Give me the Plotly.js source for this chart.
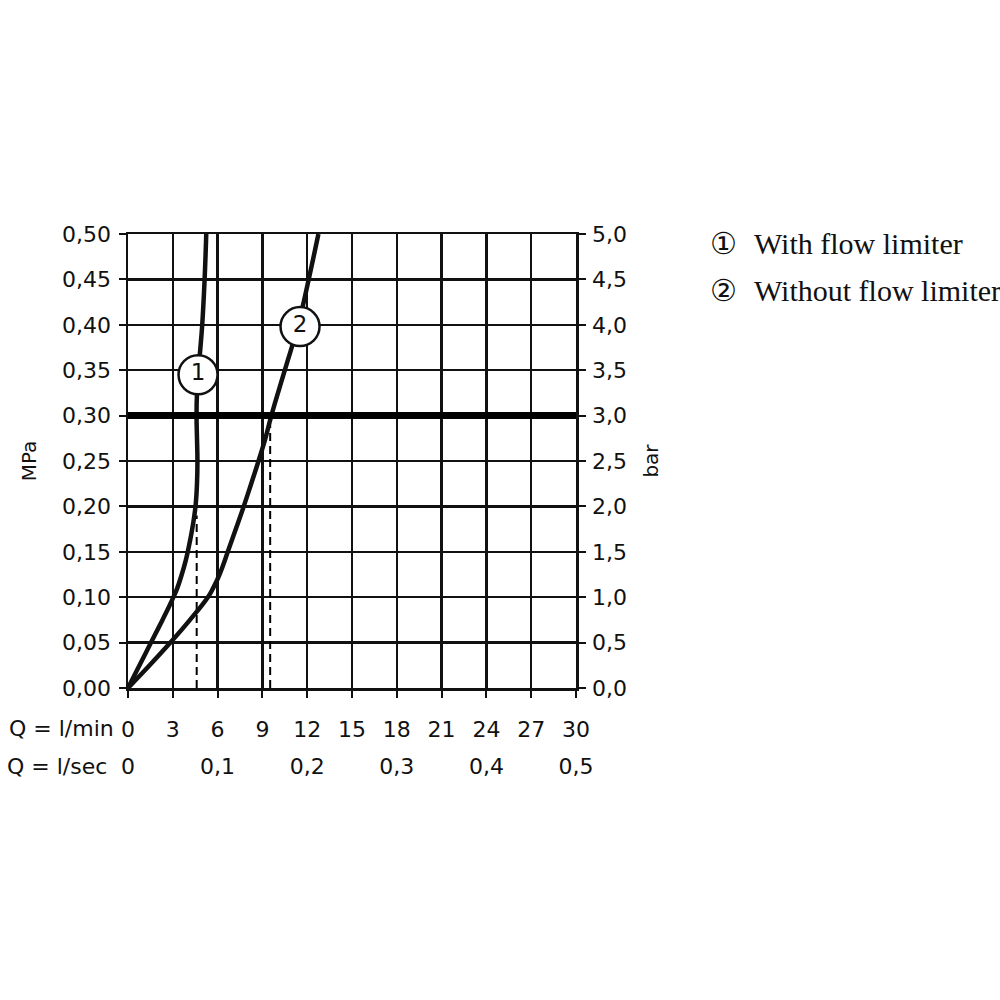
<!DOCTYPE html>
<html>
<head>
<meta charset="utf-8">
<script src="https://cdn.plot.ly/plotly-3.0.1.min.js"></script>
<style>html,body{margin:0;padding:0;background:#fff;}#chart{width:1000px;height:1000px;}</style>
</head>
<body>
<div id="chart"></div>
<script>
// ---- data ----
// Curve 1: with flow limiter (Q in l/min, p in MPa)
const q1 = [0, 0.77, 1.54, 2.31, 2.76, 3.04, 3.3, 3.6, 3.86, 4.0, 4.3, 4.52, 4.62, 4.65, 4.62, 4.59, 4.62, 4.72, 4.85, 4.97, 5.13, 5.24];
const p1 = [0, 0.025, 0.05, 0.075, 0.09, 0.10, 0.11, 0.125, 0.14, 0.15, 0.175, 0.20, 0.225, 0.25, 0.275, 0.30, 0.325, 0.35, 0.375, 0.40, 0.45, 0.50];
// Curve 2: without flow limiter
const q2 = [0, 1.45, 2.84, 4.15, 5.35, 5.7, 6.0, 6.25, 6.47, 6.68, 7.22, 7.75, 8.25, 8.74, 9.2, 9.6, 10.5, 11.4, 12.1, 12.75];
const p2 = [0, 0.025, 0.05, 0.075, 0.10, 0.11, 0.12, 0.13, 0.14, 0.15, 0.175, 0.20, 0.225, 0.25, 0.275, 0.30, 0.35, 0.40, 0.45, 0.50];
// Flow read-off lines at 3 bar
const readQ = [4.6, 9.52];
const readTop = [0.19, 0.29];
const thresholdBar = 3.0;
// Curve labels
const curveLabels = ["1", "2"];
const labelQ = [4.69, 11.52];
const labelP = [0.345, 0.398];
// Legend
const legendSymbols = ["\u2460", "\u2461"];
const legendTexts = ["With flow limiter", "Without flow limiter"];
// Axis ticks
const mpaVals = [0, 0.05, 0.10, 0.15, 0.20, 0.25, 0.30, 0.35, 0.40, 0.45, 0.50];
const mpaText = ["0,00", "0,05", "0,10", "0,15", "0,20", "0,25", "0,30", "0,35", "0,40", "0,45", "0,50"];
const barVals = [0, 0.5, 1, 1.5, 2, 2.5, 3, 3.5, 4, 4.5, 5];
const barText = ["0,0", "0,5", "1,0", "1,5", "2,0", "2,5", "3,0", "3,5", "4,0", "4,5", "5,0"];
const lminVals = [0, 3, 6, 9, 12, 15, 18, 21, 24, 27, 30];
const lminText = ["0", "3", "6", "9", "12", "15", "18", "21", "24", "27", "30"];
const lsecVals = [0, 0.1, 0.2, 0.3, 0.4, 0.5];
const lsecText = ["0", "0,1", "0,2", "0,3", "0,4", "0,5"];
const rowTitles = ["Q = l/min", "Q = l/sec"];

// ---- layout geometry ----
const L = 128, R = 424, T = 234, B = 312;
const W = 1000 - L - R, H = 1000 - T - B;
const px = v => (v - L) / W;
const py = v => (1000 - B - v) / H;

const sans = "DejaVu Sans, sans-serif";
const serif = "Liberation Serif, Times New Roman, serif";

const traces = [];
// thick 3 bar line
traces.push({x: [0, 30], y: [thresholdBar, thresholdBar], xaxis: 'x', yaxis: 'y2', mode: 'lines',
  line: {color: '#000', width: 7}, hoverinfo: 'skip', showlegend: false});
// dashed read-off lines
for (let i = 0; i < readQ.length; i++) {
  traces.push({x: [readQ[i], readQ[i]], y: [0, readTop[i]], mode: 'lines',
    line: {color: '#000', width: 2, dash: '8px,5px'}, hoverinfo: 'skip', showlegend: false});
}
// curves
traces.push({x: q1, y: p1, mode: 'lines', line: {color: '#111', width: 4.5, shape: 'spline', smoothing: 1.2},
  name: legendTexts[0], showlegend: false});
traces.push({x: q2, y: p2, mode: 'lines', line: {color: '#111', width: 4.5, shape: 'spline', smoothing: 1.2},
  name: legendTexts[1], showlegend: false});
// circle labels
traces.push({x: labelQ, y: labelP, mode: 'markers+text', text: curveLabels, textposition: 'middle center',
  textfont: {family: sans, size: 23, color: '#111'},
  marker: {size: 39, color: '#fff', line: {color: '#111', width: 2.5}}, hoverinfo: 'skip', showlegend: false, cliponaxis: false});
// invisible trace for l/sec axis
traces.push({x: [0], y: [0], xaxis: 'x2', yaxis: 'y', mode: 'markers', marker: {opacity: 0}, hoverinfo: 'skip', showlegend: false});

const annotations = [];
annotations.push({xref: 'paper', yref: 'paper', x: px(116), y: py(728), xanchor: 'right', yanchor: 'middle',
  text: rowTitles[0], showarrow: false, font: {family: sans, size: 22, color: '#111'}});
annotations.push({xref: 'paper', yref: 'paper', x: px(109), y: py(766), xanchor: 'right', yanchor: 'middle',
  text: rowTitles[1], showarrow: false, font: {family: sans, size: 22, color: '#111'}});
const legY = [243, 290];
for (let i = 0; i < legendTexts.length; i++) {
  annotations.push({xref: 'paper', yref: 'paper', x: px(723), y: py(legY[i]), xanchor: 'center', yanchor: 'middle',
    text: legendSymbols[i], showarrow: false, font: {family: sans, size: 30, color: '#111'}});
  annotations.push({xref: 'paper', yref: 'paper', x: px(752), y: py(legY[i]), xanchor: 'left', yanchor: 'middle',
    text: legendTexts[i], showarrow: false, font: {family: serif, size: 30, color: '#111'}});
}

const tickFont = {family: sans, size: 22, color: '#111'};
const layout = {
  width: 1000, height: 1000,
  margin: {l: L, r: R, t: T, b: B, pad: 0},
  paper_bgcolor: '#fff', plot_bgcolor: '#fff',
  showlegend: false,
  xaxis: {range: [0, 30], tickvals: lminVals, ticktext: lminText, showgrid: true, gridcolor: '#111', gridwidth: 2.5,
    zeroline: false, showline: true, linecolor: '#111', linewidth: 2.5, mirror: true,
    ticks: 'outside', ticklen: 7, tickwidth: 2, tickcolor: '#111', tickfont: tickFont, ticklabelstandoff: 13,
    automargin: false, fixedrange: true},
  xaxis2: {range: [0, 0.5], overlaying: 'x', anchor: 'y', side: 'bottom', tickvals: lsecVals, ticktext: lsecText,
    showgrid: false, zeroline: false, showline: false, ticks: '', tickfont: tickFont, ticklabelstandoff: 63,
    automargin: false, fixedrange: true},
  yaxis: {range: [0, 0.5], tickvals: mpaVals, ticktext: mpaText, showgrid: true, gridcolor: '#111', gridwidth: 2.5,
    zeroline: false, showline: true, linecolor: '#111', linewidth: 2.5,
    ticks: 'outside', ticklen: 7, tickwidth: 2, tickcolor: '#111', tickfont: tickFont, ticklabelstandoff: 3,
    title: {text: 'MPa', font: {family: sans, size: 20, color: '#111'}, standoff: 20},
    automargin: false, fixedrange: true},
  yaxis2: {range: [0, 5], overlaying: 'y', side: 'right', anchor: 'x', tickvals: barVals, ticktext: barText,
    showgrid: false, zeroline: false, showline: true, linecolor: '#111', linewidth: 2.5,
    ticks: 'outside', ticklen: 7, tickwidth: 2, tickcolor: '#111', tickfont: tickFont, ticklabelstandoff: 2,
    title: {text: 'bar', font: {family: sans, size: 20, color: '#111'}, standoff: 18},
    automargin: false, fixedrange: true},
  annotations: annotations
};

Plotly.newPlot('chart', traces, layout, {staticPlot: true, displayModeBar: false});
</script>
</body>
</html>
